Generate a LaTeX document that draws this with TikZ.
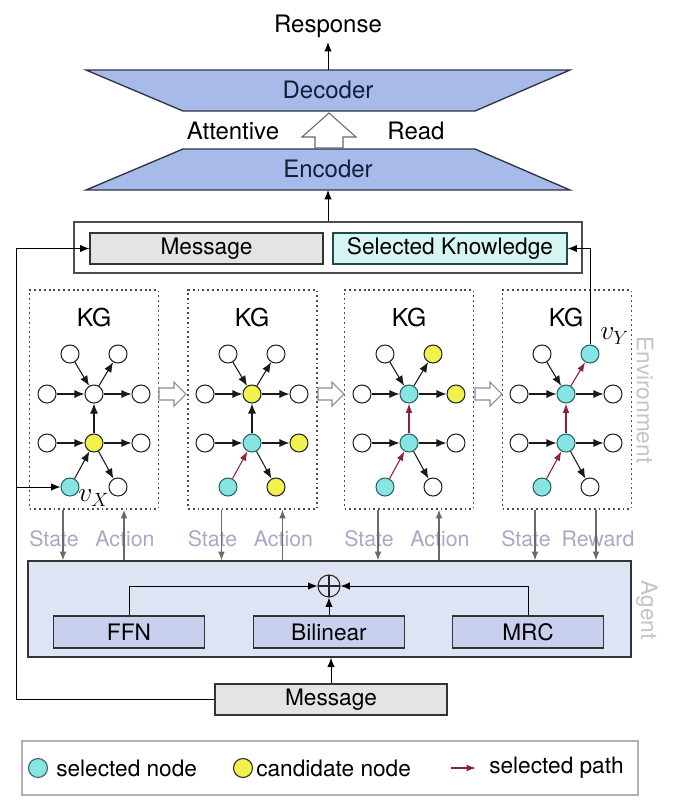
\documentclass[tikz,border=0pt]{standalone}
\usepackage{fontspec}
\setmainfont{TeX Gyre Heros}
\usetikzlibrary{arrows.meta,calc}
\definecolor{trap}{HTML}{A7BAEA}
\definecolor{trapd}{HTML}{2E3440}
\definecolor{navy}{HTML}{141E3C}
\definecolor{msgg}{HTML}{E4E4E4}
\definecolor{skc}{HTML}{D5F6F3}
\definecolor{skb}{HTML}{1F4A4F}
\definecolor{selc}{HTML}{86E4E2}
\definecolor{selb}{HTML}{2F6466}
\definecolor{candy}{HTML}{F2F24C}
\definecolor{pathred}{HTML}{8E1F3F}
\definecolor{lblc}{HTML}{A6AAC6}
\definecolor{sidec}{HTML}{C4C4C4}
\definecolor{agentf}{HTML}{DFE4F5}
\definecolor{innerf}{HTML}{C9D0EE}
\definecolor{garr}{HTML}{6A6A6A}
\newcommand\kgraph[9]{%
  \node[kgn] (#1-tl) at ({#2-24},354) {};
  \node[kgn,#3] (#1-tr) at ({#2+24},354) {};
  \node[kgn] (#1-l1) at ({#2-47},394) {};
  \node[kgn,#4] (#1-c1) at (#2,394) {};
  \node[kgn,#5] (#1-r1) at ({#2+47},394) {};
  \node[kgn] (#1-l2) at ({#2-47},443) {};
  \node[kgn,#6] (#1-c2) at (#2,443) {};
  \node[kgn,#7] (#1-r2) at ({#2+47},443) {};
  \node[kgn,#8] (#1-bl) at ({#2-24},487) {};
  \node[kgn,#9] (#1-br) at ({#2+24},487) {};
  \draw[kge] (#1-tl) -- (#1-c1);
  \draw[kge] (#1-l1) -- (#1-c1);
  \draw[kge] (#1-c1) -- (#1-r1);
  \draw[kge] (#1-l2) -- (#1-c2);
  \draw[kge] (#1-c2) -- (#1-r2);
  \draw[kge] (#1-c2) -- (#1-br);
  \node[font=\fontsize{18.5}{20}\selectfont] (#1-t) at (#2,318) {KG};
}
\newcommand\hollowarrow[3]{%
  \draw[draw=black!45, fill=white, line width=0.8pt]
    (#1,{#3-6}) -- ({#2-12},{#3-6}) -- ({#2-12},{#3-12}) -- (#2,#3)
    -- ({#2-12},{#3+12}) -- ({#2-12},{#3+6}) -- (#1,{#3+6}) -- cycle;
}
\begin{document}
\begin{tikzpicture}[x=0.75pt,y=-0.75pt,
  font=\fontsize{17}{20}\selectfont,
  arr/.style={-{Latex[length=7pt,width=5.5pt]}, line width=0.7pt, draw=black},
  garrow/.style={-{Latex[length=6.5pt,width=5pt]}, line width=0.8pt, draw=garr},
  kgn/.style={circle, draw=black!85, line width=0.8pt, minimum size=18*0.75pt, inner sep=0pt, fill=white},
  sel/.style={fill=selc, draw=selb},
  cand/.style={fill=candy},
  kge/.style={-{Latex[length=7.5pt,width=6pt]}, line width=0.8pt, draw=black!90},
  redp/.style={-{Latex[length=7pt,width=5pt]}, line width=0.8pt, draw=pathred},
  kgbox/.style={draw=black!70, dash pattern=on 1.4pt off 2.2pt, line width=1pt, minimum width=129*0.75pt, minimum height=219*0.75pt, inner sep=0pt},
  graybox/.style={draw=black!80, fill=msgg, line width=0.9pt, minimum height=31*0.75pt, inner sep=0pt},
  innerbox/.style={draw=black!80, fill=innerf, line width=0.9pt, minimum width=151*0.75pt, minimum height=32*0.75pt, inner sep=0pt},
  lbl/.style={text=lblc, font=\fontsize{16}{18}\selectfont},
  side/.style={text=sidec, font=\fontsize{17}{20}\selectfont, rotate=-90}
]
\useasboundingbox (0,0) rectangle (677,808);

% ---------- Decoder / Encoder ----------
\node (resp) at (328,26) {\fontsize{18}{20}\selectfont Response};
\draw[fill=trap, draw=trapd, line width=1pt] (86,70) -- (570,70) -- (475,111) -- (183,111) -- cycle;
\node[text=navy, font=\fontsize{18}{20}\selectfont] (dec) at (328,90) {Decoder};
\draw[fill=trap, draw=trapd, line width=1pt] (183,149) -- (475,149) -- (570,190) -- (86,190) -- cycle;
\node[text=navy, font=\fontsize{18}{20}\selectfont] (enc) at (328,169) {Encoder};
\coordinate (decT) at (328,70);
\coordinate (encB) at (328,190);
\draw[arr] (decT) -- (resp.south);
\draw[draw=black!60, fill=white, line width=0.8pt]
  (315,148) -- (315,137) -- (302,137) -- (329,113) -- (356,137) -- (343,137) -- (343,148) -- cycle;
\node[font=\fontsize{18}{20}\selectfont] (att) at (233,131) {Attentive};
\node[font=\fontsize{18}{20}\selectfont] (read) at (416,131) {Read};

% ---------- Input box ----------
\node[draw=black!70, line width=0.9pt, minimum width=508*0.75pt, minimum height=51*0.75pt, inner sep=0pt] (outer) at (328,247.5) {};
\node[graybox, minimum width=233*0.75pt] (msgT) at (206.5,248.5) {Message};
\node[draw=skb, fill=skc, line width=0.9pt, minimum width=234*0.75pt, minimum height=31*0.75pt, inner sep=0pt] (sk) at (450,248.5) {Selected Knowledge};
\draw[arr] (outer.north) -- (encB);

% ---------- KG boxes ----------
\node[kgbox] (k1) at (94,399.5) {};
\node[kgbox] (k2) at (252.5,399.5) {};
\node[kgbox] (k3) at (409,399.5) {};
\node[kgbox] (k4) at (567,399.5) {};
\hollowarrow{159}{186}{394}
\hollowarrow{318}{344}{394}
\hollowarrow{475}{502}{394}

\kgraph{a}{94}{}{}{}{cand}{}{sel}{}
\draw[kge] (a-bl) -- (a-c2);
\draw[kge] (a-c2) -- (a-c1);
\draw[kge] (a-c1) -- (a-tr);

\kgraph{b}{252}{}{cand}{}{sel}{cand}{sel}{cand}
\draw[redp] (b-bl) -- (b-c2);
\draw[kge] (b-c2) -- (b-c1);
\draw[kge] (b-c1) -- (b-tr);

\kgraph{c}{409}{cand}{sel}{cand}{sel}{}{sel}{}
\draw[redp] (c-bl) -- (c-c2);
\draw[redp] (c-c2) -- (c-c1);
\draw[kge] (c-c1) -- (c-tr);

\kgraph{d}{566}{sel}{sel}{}{sel}{}{sel}{}
\draw[redp] (d-bl) -- (d-c2);
\draw[redp] (d-c2) -- (d-c1);
\draw[redp] (d-c1) -- (d-tr);

\node[anchor=west, inner sep=0pt, font=\fontsize{21}{22}\selectfont] (vx) at (78,498) {$v_X$};
\node[anchor=west, inner sep=0pt, font=\fontsize{21}{22}\selectfont] (vy) at (600,336) {$v_Y$};

\node[side] (env) at (645,400) {Environment};

% ---------- Agent ----------
\node[draw=black!80, fill=agentf, line width=1pt, minimum width=603*0.75pt, minimum height=96*0.75pt, inner sep=0pt] (agent) at (329.5,609) {};
\node[side] (agl) at (647,610) {Agent};
\node[innerbox] (ffn) at (129,632) {FFN};
\node[innerbox] (bil) at (329,632) {Bilinear};
\node[innerbox] (mrc) at (528,632) {MRC};
\node[circle, draw=black!85, line width=0.8pt, minimum size=22*0.75pt, inner sep=0pt,
  path picture={\draw[line width=0.8pt] (path picture bounding box.north) -- (path picture bounding box.south)
  (path picture bounding box.west) -- (path picture bounding box.east);}] (op) at (329,586) {};
\draw[arr] (ffn.north) |- (op.west);
\draw[arr] (mrc.north) |- (op.east);
\draw[arr] (bil.north) -- (op.south);

% ---------- State / Action ----------
\foreach \k in {k1,k2,k3}{
  \node[lbl] at ([xshift=-40*0.75pt,yshift=-29.5*0.75pt]\k.south) {State};
  \node[lbl] at ([xshift=31*0.75pt,yshift=-29.5*0.75pt]\k.south) {Action};
}
\node[lbl] at ([xshift=-41*0.75pt,yshift=-29.5*0.75pt]k4.south) {State};
\node[lbl] at ([xshift=31*0.75pt,yshift=-29.5*0.75pt]k4.south) {Reward};
\foreach \k in {k1,k2,k3}{
  \draw[garrow] ([xshift=-31*0.75pt]\k.south) -- ([xshift=-31*0.75pt]\k.south |- agent.north);
  \draw[garrow] ([xshift=30*0.75pt]\k.south |- agent.north) -- ([xshift=30*0.75pt]\k.south);
}
\draw[garrow] ([xshift=-32*0.75pt]k4.south) -- ([xshift=-32*0.75pt]k4.south |- agent.north);
\draw[garrow] ([xshift=29*0.75pt]k4.south) -- ([xshift=29*0.75pt]k4.south |- agent.north);

% ---------- Message (bottom) ----------
\node[graybox, minimum width=232*0.75pt] (msgB) at (331,699.5) {Message};
\draw[arr] (msgB.north) -- (msgB.north |- agent.south);
\coordinate (lc) at (16,248.5);
\coordinate (lb) at (16,487);
\draw[arr] (msgB.west) -| (lc) -- (msgT.west);
\draw[arr] (lb) -- (a-bl.west);
\draw[arr] (d-tr.north) |- (sk.east);

% ---------- Legend ----------
\node[draw=black!30, line width=1pt, minimum width=616*0.75pt, minimum height=54*0.75pt, inner sep=0pt] (legend) at (330,768) {};
\node[kgn, sel, minimum size=19*0.75pt] (lg1) at (38,768) {};
\node[anchor=west, inner sep=0pt] (lt1) at (56,768) {selected node};
\node[kgn, cand, minimum size=19*0.75pt] (lg2) at (243,768) {};
\node[anchor=west, inner sep=0pt] (lt2) at (256,768) {candidate node};
\coordinate (la1) at (451,768);
\coordinate (la2) at (476,768);
\draw[redp] (la1) -- (la2);
\node[anchor=west, inner sep=0pt] (lt3) at (489,768) {selected path};
\end{tikzpicture}
\end{document}
